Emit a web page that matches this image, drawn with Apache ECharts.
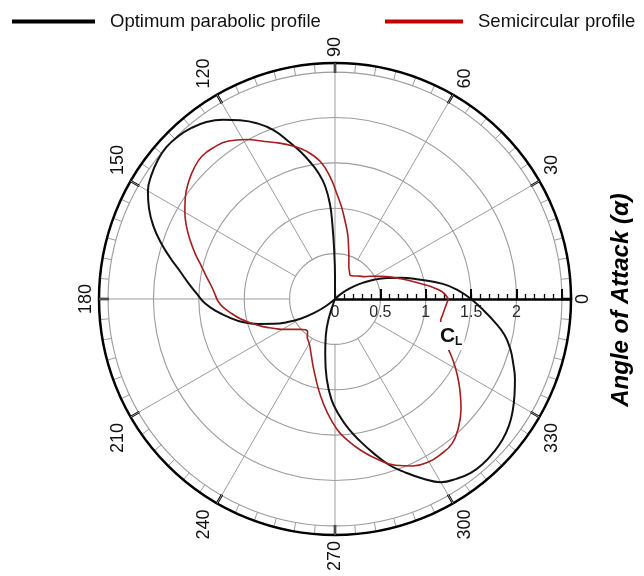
<!DOCTYPE html>
<html>
<head>
<meta charset="utf-8">
<script src="https://cdn.jsdelivr.net/npm/echarts@6/dist/echarts.min.js"></script>
<style>
  html, body { margin: 0; padding: 0; background: #ffffff; }
  #chart { width: 644px; height: 576px; }
</style>
</head>
<body>
<div id="chart"></div>
<script>
// Lift coefficient C_L against angle of attack (degrees), two blade profiles.
const parabolicAngle = [0, 4, 8, 13, 18, 22, 26, 30, 34, 38, 42, 45, 60, 75, 88, 90, 91, 92, 93, 95, 97.5, 100, 103, 106, 110, 114, 118, 122, 126, 130, 134, 138, 142, 146, 150, 154, 158, 162, 166, 170, 174, 178, 182, 186, 190, 194, 198, 202, 206, 210, 214, 218, 222, 235, 249, 252, 256, 260, 264, 268, 272, 276, 280, 284, 288, 292, 296, 300, 304, 308, 312, 316, 320, 324, 328, 332, 336, 340, 344, 348, 352, 356, 360];
const parabolicCL = [1.50, 1.36, 1.20, 0.95, 0.76, 0.62, 0.49, 0.36, 0.25, 0.15, 0.06, 0, 0, 0, 0, 0.25, 0.55, 0.82, 1.04, 1.25, 1.40, 1.52, 1.66, 1.79, 1.98, 2.12, 2.23, 2.33, 2.41, 2.46, 2.49, 2.50, 2.48, 2.44, 2.38, 2.28, 2.16, 2.02, 1.87, 1.73, 1.62, 1.52, 1.43, 1.31, 1.18, 1.05, 0.89, 0.73, 0.58, 0.43, 0.27, 0.12, 0, 0, 0, 0.22, 0.42, 0.62, 0.88, 1.11, 1.28, 1.44, 1.59, 1.75, 1.92, 2.06, 2.20, 2.33, 2.39, 2.43, 2.44, 2.43, 2.41, 2.37, 2.31, 2.24, 2.17, 2.09, 2.01, 1.91, 1.77, 1.63, 1.50];

const semicircAngle = [0, 4, 8, 12, 17, 22, 27, 33, 38, 43, 50, 57, 62, 67, 71, 75, 79, 83, 86, 89, 92, 96, 101, 106, 110, 114, 119, 124, 129, 133, 137, 141, 146, 150, 154, 158, 162, 166, 170, 174, 178, 181, 184, 188, 192, 196, 201, 206, 211, 216, 221, 226, 230, 234, 238, 242, 247, 252, 257, 261, 266, 271, 275, 280, 285, 290, 295, 300, 304, 309, 314, 319, 324, 328, 332, 336, 340, 344, 348, 352, 356, 360];
const semicircCL = [1.25, 1.18, 1.04, 0.90, 0.76, 0.65, 0.55, 0.46, 0.40, 0.37, 0.33, 0.31, 0.34, 0.39, 0.47, 0.58, 0.73, 0.88, 1.02, 1.16, 1.33, 1.52, 1.66, 1.76, 1.83, 1.90, 2.01, 2.10, 2.14, 2.15, 2.12, 2.07, 1.99, 1.91, 1.82, 1.72, 1.62, 1.52, 1.44, 1.37, 1.32, 1.29, 1.24, 1.15, 1.06, 0.96, 0.85, 0.74, 0.65, 0.57, 0.51, 0.47, 0.47, 0.52, 0.55, 0.59, 0.67, 0.78, 0.92, 1.06, 1.25, 1.44, 1.56, 1.70, 1.83, 1.95, 2.03, 2.07, 2.07, 2.05, 1.96, 1.84, 1.70, 1.59, 1.48, 1.37, 1.28, 1.22, 1.19, 1.20, 1.22, 1.25];

const angleTicks = [0, 30, 60, 90, 120, 150, 180, 210, 240, 270, 300, 330];
const clTicks = [0, 0.5, 1, 1.5, 2];
const clTickLabels = ['0', '0.5', '1', '1.5', '2'];

const seriesNames = ['Optimum parabolic profile', 'Semicircular profile'];
const angleTitle = 'Angle of Attack (\u03b1)';

const FONT = '"Liberation Sans", Arial, Helvetica, sans-serif';
const GRID = '#9c9c9c';
const CL_MAX = 2.6;
const CENTER = [335, 299];
const RADIUS = 236;

function toPolar(cl, ang) {
  return cl.map((v, i) => [v, ang[i]]);
}

const chart = echarts.init(document.getElementById('chart'), null, { renderer: 'canvas' });

const legendText = { fontFamily: FONT, fontSize: 18.5, color: '#111', padding: [0, 0, 0, 10] };

const option = {
  animation: false,
  backgroundColor: '#ffffff',
  legend: [
    { left: 12, top: 12, padding: 0, data: [seriesNames[0]], icon: 'rect', itemWidth: 83, itemHeight: 4,
      selectedMode: false, textStyle: legendText },
    { left: 385, top: 12, padding: 0, data: [seriesNames[1]], icon: 'rect', itemWidth: 78, itemHeight: 4,
      selectedMode: false, textStyle: legendText }
  ],
  polar: [
    { center: CENTER, radius: RADIUS },
    { center: CENTER, radius: RADIUS }
  ],
  angleAxis: [
    {
      polarIndex: 0, type: 'value', min: 0, max: 360, interval: 30,
      startAngle: 0, clockwise: false,
      axisLine: { lineStyle: { color: '#000', width: 2.5 } },
      axisTick: { show: true, inside: true, length: 10, lineStyle: { color: '#000', width: 2.5 } },
      minorTick: { show: true, splitNumber: 6, length: 9, lineStyle: { color: GRID, width: 1 } },
      splitLine: { show: false },
      axisLabel: { show: false }
    },
    {
      polarIndex: 1, type: 'value', min: 0, max: 360, startAngle: 0, clockwise: false,
      axisLine: { show: false }, axisTick: { show: false }, axisLabel: { show: false },
      splitLine: { show: false }
    }
  ],
  radiusAxis: [
    {
      polarIndex: 0, type: 'value', min: 0, max: CL_MAX, interval: 0.5,
      axisLine: { lineStyle: { color: '#000', width: 2.5 } },
      axisTick: { show: true, length: 10, lineStyle: { color: '#000', width: 2 } },
      axisLabel: {
        margin: -14, verticalAlign: 'middle', fontFamily: FONT, fontSize: 16, color: '#2a2a2a',
        formatter: v => {
          const i = clTicks.indexOf(v);
          return i < 0 ? '' : clTickLabels[i];
        }
      },
      splitLine: { show: true, lineStyle: { color: GRID, width: 1.1 } }
    },
    {
      // fine 0.1 ticks along the C_L axis
      polarIndex: 1, type: 'value', min: 0, max: CL_MAX, interval: 0.1,
      axisLine: { show: false },
      axisTick: { show: true, length: 5, lineStyle: { color: '#000', width: 1.3 } },
      axisLabel: { show: false },
      splitLine: { show: false }
    }
  ],
  series: [
    {
      // radial grid spokes, drawn outside the innermost ring only
      type: 'custom', coordinateSystem: 'polar', polarIndex: 0, silent: true, z: 1,
      data: angleTicks.filter(a => a !== 0).map(a => [0.5, a]),
      renderItem: (params, api) => {
        const a = api.value(1);
        const p0 = api.coord([api.value(0), a]);
        const p1 = api.coord([CL_MAX, a]);
        return {
          type: 'line',
          shape: { x1: p0[0], y1: p0[1], x2: p1[0], y2: p1[1] },
          style: { stroke: GRID, lineWidth: 1 }
        };
      }
    },
    {
      name: seriesNames[0], type: 'line', coordinateSystem: 'polar', polarIndex: 0,
      data: toPolar(parabolicCL, parabolicAngle),
      symbol: 'none', smooth: 0.45, clip: false, z: 3,
      itemStyle: { color: '#000000' },
      lineStyle: { color: '#111111', width: 2 }
    },
    {
      name: seriesNames[1], type: 'line', coordinateSystem: 'polar', polarIndex: 0,
      data: toPolar(semicircCL, semicircAngle),
      symbol: 'none', smooth: 0.45, clip: false, z: 4,
      itemStyle: { color: '#c40000' },
      lineStyle: { color: '#a41e1e', width: 1.6 }
    }
  ]
};

chart.setOption(option);

// Angle tick labels (text turned a quarter turn), set just outside each major tick.
const ANGLE_FONT = 18;
const GAP_X = 5;
const GAP_Y = 6;
const measure = document.createElement('canvas').getContext('2d');
measure.font = ANGLE_FONT + 'px ' + FONT;

const graphics = angleTicks.map(a => {
  const txt = String(a);
  const halfAlong = measure.measureText(txt).width / 2;   // vertical half-size once turned
  const halfAcross = 7.5;                                  // horizontal half-size once turned
  const rad = a * Math.PI / 180;
  const c = Math.cos(rad);
  const s = Math.sin(rad);
  const sx = Math.abs(c) < 1e-6 ? 0 : Math.sign(c);
  const sy = Math.abs(s) < 1e-6 ? 0 : Math.sign(s);
  const p = chart.convertToPixel({ polarIndex: 0 }, [CL_MAX, a]);
  return {
    type: 'text',
    x: p[0] + sx * (GAP_X + halfAcross),
    y: p[1] - sy * (GAP_Y + halfAlong),
    rotation: Math.PI / 2,
    style: {
      text: txt, fontFamily: FONT, fontSize: ANGLE_FONT, fill: '#111',
      align: 'center', verticalAlign: 'middle'
    }
  };
});

// angle axis title on the right
graphics.push({
  type: 'text',
  x: 621, y: 300,
  rotation: Math.PI / 2,
  style: {
    text: angleTitle, fontFamily: FONT, fontSize: 24, fontWeight: 'bold', fontStyle: 'italic',
    fill: '#000', align: 'center', verticalAlign: 'middle'
  }
});

// C_L axis name, under the middle of the radial axis
const clAnchor = chart.convertToPixel({ polarIndex: 0 }, [1.28, 0]);
graphics.push({
  type: 'text',
  x: clAnchor[0], y: clAnchor[1] + 37, z: 100,
  style: {
    text: '{c|C}{l|L}',
    rich: {
      c: { fontFamily: FONT, fontSize: 21, fontWeight: 'bold', fill: '#111' },
      l: { fontFamily: FONT, fontSize: 12, fontWeight: 'bold', fill: '#111', padding: [12, 0, 0, 0] }
    },
    backgroundColor: '#ffffff', padding: [2, 2, 2, 2],
    align: 'center', verticalAlign: 'middle'
  }
});

chart.setOption({ graphic: graphics });
</script>
</body>
</html>
